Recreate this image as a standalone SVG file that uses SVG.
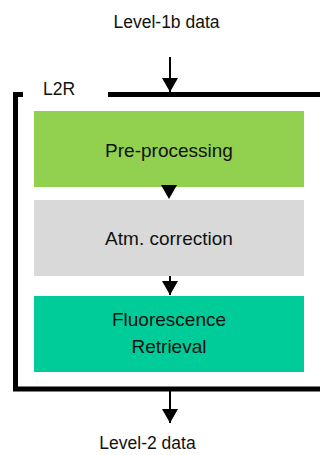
<svg xmlns="http://www.w3.org/2000/svg" width="320" height="455" viewBox="0 0 320 455">
<style>
.lbl{font-family:"Liberation Sans",Arial,sans-serif;font-size:17.5px;fill:#111;}
.box{font-family:"Liberation Sans",Arial,sans-serif;font-size:19px;fill:#111;text-anchor:middle;}
.conn{stroke:#000;stroke-width:2;fill:none;}
.frame{stroke:#000;stroke-width:5;fill:none;stroke-linejoin:miter;}
</style>
<defs>
<marker id="ah" viewBox="0 0 14 16" refX="14" refY="8" markerWidth="14" markerHeight="16" markerUnits="userSpaceOnUse" orient="auto">
<path d="M0,0 L14,8 L0,16 z" fill="#000"/>
</marker>
</defs>
<g id="frame">
<path class="frame" d="M23,94.5 H15.5 V389 H320"/>
<path class="frame" d="M108,94.5 H320"/>
<text class="lbl" x="43" y="95">L2R</text>
</g>
<g id="input"><text class="lbl" x="166.5" y="28" text-anchor="middle">Level-1b data</text></g>
<g id="output"><text class="lbl" x="147.5" y="449" text-anchor="middle">Level-2 data</text></g>
<g id="preprocessing">
<rect x="34" y="111" width="270" height="76" fill="#92d050"/>
<text class="box" x="169" y="157">Pre-processing</text>
</g>
<g id="atm">
<rect x="34" y="200" width="270" height="76" fill="#d9d9d9"/>
<text class="box" x="169" y="245">Atm. correction</text>
</g>
<g id="fluorescence">
<rect x="34" y="296" width="270" height="76" fill="#00cc99"/>
<text class="box" x="169" y="326">Fluorescence</text>
<text class="box" x="169" y="353">Retrieval</text>
</g>
<g id="connectors">
<line class="conn" x1="170" y1="57" x2="170" y2="92" marker-end="url(#ah)"/>
<line class="conn" x1="169" y1="183" x2="169" y2="199" marker-end="url(#ah)" stroke-opacity="0"/>
<line class="conn" x1="170" y1="276" x2="170" y2="295" marker-end="url(#ah)"/>
<line class="conn" x1="170" y1="391" x2="170" y2="423" marker-end="url(#ah)"/>
</g>
</svg>
